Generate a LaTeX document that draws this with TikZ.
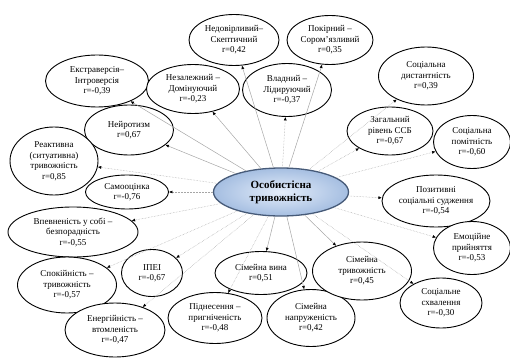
\documentclass[tikz,border=0pt]{standalone}
\usepackage{fontspec}
\setmainfont{Liberation Serif}
\usepackage{xcolor}
\usetikzlibrary{positioning, arrows.meta, shapes.geometric}
\definecolor{coreedge}{RGB}{70,90,120}
\definecolor{coreinner}{RGB}{228,237,250}
\definecolor{coreouter}{RGB}{165,190,225}

\begin{document}
\begin{tikzpicture}[
    x=1pt, y=-1pt,
    trait/.style={ellipse, draw=black, line width=0.9pt, fill=white, align=center, inner sep=0pt, font=\fontsize{9}{10.5}\selectfont},
    core/.style={ellipse, draw=coreedge, line width=1.3pt, inner color=coreinner, outer color=coreouter, align=center, font=\fontsize{11}{12.5}\selectfont\bfseries, minimum width=135pt, minimum height=48pt},
    link/.style={draw=gray!70, line width=0.5pt, -{Latex[length=3.5pt,width=3pt,color=black]}},
    weak/.style={link, densely dotted}
]
\useasboundingbox (0,0) rectangle (510,358);

\node[core] (anx) at (281,192) {Особистісна\\тривожність};

% upper row
\node[trait, minimum width=103pt, minimum height=52pt] (extra) at (97,81) {Екстраверсія–\\Інтроверсія\\r=-0,39};
\node[trait, minimum width=90pt, minimum height=51pt] (sceptic) at (234,40) {Недовірливий–\\Скептичний\\r=0,42};
\node[trait, minimum width=86pt, minimum height=49pt] (shy) at (330,40) {Покірний –\\Сором’язливий\\r=0,35};
\node[trait, minimum width=93pt, minimum height=49pt] (indep) at (193,89) {Незалежний –\\Домінуючий\\r=-0,23};
\node[trait, minimum width=89pt, minimum height=53pt] (lead) at (287,90) {Владний –\\Лідируючий\\r=-0,37};
\node[trait, minimum width=95pt, minimum height=58pt] (dist) at (426,76) {Соціальна\\дистантність\\r=0,39};

% right side
\node[trait, minimum width=86pt, minimum height=48pt] (ssb) at (390,131) {Загальний\\рівень ССБ\\r=-0,67};
\node[trait, minimum width=77pt, minimum height=53pt] (notice) at (472,142) {Соціальна\\помітність\\r=-0,60};
\node[trait, minimum width=108pt, minimum height=52pt] (judge) at (436,201) {Позитивні\\соціальні судження\\r=-0,54};
\node[trait, minimum width=77pt, minimum height=53pt] (accept) at (472,248) {Емоційне\\прийняття\\r=-0,53};
\node[trait, minimum width=82pt, minimum height=50pt] (approv) at (441,303) {Соціальне\\схвалення\\r=-0,30};

% left side
\node[trait, minimum width=89pt, minimum height=50pt] (neuro) at (129,130) {Нейротизм\\r=0,67};
\node[trait, minimum width=88pt, minimum height=68pt] (react) at (54,161) {Реактивна\\(ситуативна)\\тривожність\\r=0,85};
\node[trait, minimum width=83pt, minimum height=34pt] (self) at (127,192) {Самооцінка\\r=-0,76};
\node[trait, minimum width=130pt, minimum height=50pt] (conf) at (73,232) {Впевненість у собі –\\безпорадність\\r=-0,55};
\node[trait, minimum width=61pt, minimum height=47pt] (ipei) at (152,273) {ІПЕІ\\r=-0,67};
\node[trait, minimum width=99pt, minimum height=56pt] (calm) at (67,285) {Спокійність –\\тривожність\\r=-0,57};

% lower row
\node[trait, minimum width=100pt, minimum height=54pt] (energy) at (115,330) {Енергійність –\\втомленість\\r=-0,47};
\node[trait, minimum width=94pt, minimum height=51pt] (mood) at (215,318) {Піднесення –\\пригніченість\\r=-0,48};
\node[trait, minimum width=92pt, minimum height=43pt] (guilt) at (261,273) {Сімейна вина\\r=0,51};
\node[trait, minimum width=88pt, minimum height=57pt] (tension) at (311,318) {Сімейна\\напруженість\\r=0,42};
\node[trait, minimum width=99pt, minimum height=58pt] (famanx) at (362,271) {Сімейна\\тривожність\\r=0,45};

\draw[link] (anx) -- (extra);
\draw[link] (anx) -- (sceptic);
\draw[link] (anx) -- (shy);
\draw[link] (anx) -- (indep);
\draw[weak] (anx) -- (lead);
\draw[weak] (anx) -- (dist);
\draw[weak] (anx) -- (ssb);
\draw[weak] (anx) -- (notice);
\draw[weak] (anx) -- (judge);
\draw[weak] (anx) -- (accept);
\draw[weak] (anx) -- (approv);
\draw[link] (anx) -- (neuro);
\draw[weak] (anx) -- (react);
\draw[weak] (anx) -- (self);
\draw[weak] (anx) -- (conf);
\draw[weak] (anx) -- (ipei);
\draw[weak] (anx) -- (calm);
\draw[weak] (anx) -- (energy);
\draw[weak] (anx) -- (mood);
\draw[link] (anx) -- (guilt);
\draw[link] (anx) -- (tension);
\draw[link] (anx) -- (famanx);
\end{tikzpicture}
\end{document}
